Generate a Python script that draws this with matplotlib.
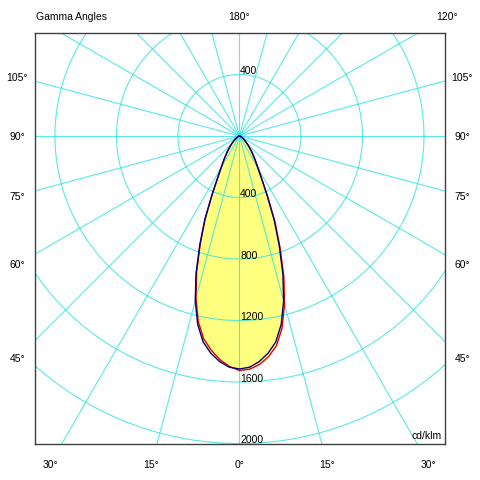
import matplotlib

matplotlib.use("Agg")
import matplotlib.pyplot as plt
import numpy as np

plt.rcParams["font.family"] = ["Liberation Sans", "DejaVu Sans"]

# gamma angles (deg from nadir) and intensities in cd/klm
GAMMA = np.arange(0, 90.1, 2.5)
BLUE_C90 = [1515, 1505, 1473, 1425, 1360, 1255, 1110, 940, 755, 590, 425, 310, 240, 195, 160,
            132, 108, 88, 70, 57, 46, 37, 30, 24, 19, 15, 12, 9, 7, 6, 5, 4, 3, 2, 1, 1, 0]
BLUE_C270 = BLUE_C90
RED_C0 = [1525, 1518, 1492, 1448, 1385, 1280, 1133, 960, 772, 603, 434, 316, 245, 199, 163,
          135, 110, 90, 71, 58, 47, 38, 31, 24, 19, 15, 12, 9, 7, 6, 5, 4, 3, 2, 1, 1, 0]
RED_C180 = [1525, 1500, 1460, 1405, 1340, 1237, 1093, 926, 744, 581, 419, 305, 236, 192, 158,
            130, 106, 87, 69, 56, 45, 36, 29, 23, 18, 14, 11, 9, 7, 6, 5, 4, 3, 2, 1, 1, 0]

RINGS = [400, 800, 1200, 1600, 2000]
SPOKES = np.arange(0, 360, 15)
LEFT_LABELS = [105, 90, 75, 60, 45]
BOTTOM_LABELS = [-30, -15, 0, 15, 30]

GRID = "#22e2e2"


def to_xy(gamma_deg, vals, side):
    g = np.radians(np.asarray(gamma_deg, dtype=float))
    v = np.asarray(vals, dtype=float)
    return side * v * np.sin(g), -v * np.cos(g)


def curve(left, right):
    xl, yl = to_xy(GAMMA, left, -1)
    xr, yr = to_xy(GAMMA, right, 1)
    x = np.concatenate([xl[::-1], xr[1:]])
    y = np.concatenate([yl[::-1], yr[1:]])
    return x, y


fig = plt.figure(figsize=(4.8, 4.81), dpi=100)
ax = fig.add_axes([34.5 / 480, (481 - 444.7) / 481, 410.2 / 480, 410.4 / 481])
ax.set_xlim(-1333, 1335)
ax.set_ylim(-2001, 668)
ax.set_xticks([])
ax.set_yticks([])
for sp in ax.spines.values():
    sp.set_color("#404040")
    sp.set_linewidth(1.0)

# fill
xr, yr = curve(RED_C180, RED_C0)
xb, yb = curve(BLUE_C270, BLUE_C90)
ax.fill(xb, yb, color="#ffff80", lw=0, zorder=1)
ax.fill(xr, yr, color="#ffff80", lw=0, zorder=1)

# polar grid
t = np.linspace(0, 2 * np.pi, 400)
for r in RINGS:
    ax.plot(r * np.cos(t), r * np.sin(t), color=GRID, lw=0.8, alpha=0.75, zorder=2)
for a in SPOKES:
    ar = np.radians(a)
    ax.plot([0, 4000 * np.sin(ar)], [0, -4000 * np.cos(ar)], color=GRID, lw=0.8, alpha=0.75, zorder=2)

ax.plot(xr, yr, color="#e00000", lw=1.0, zorder=3)
ax.plot(xb, yb, color="#000080", lw=1.0, zorder=4)

# ring labels
fs = 7.5
ax.text(5, RINGS[0] - 5, str(RINGS[0]), fontsize=fs, ha="left", va="bottom", zorder=5)
for r in RINGS:
    ax.text(5, -r - 5, str(r), fontsize=fs, ha="left", va="bottom", zorder=5)
ax.text(1318, -1975, "cd/klm", fontsize=fs, ha="right", va="bottom", zorder=5)

# angle labels round the frame
side_off = 1444
bot_off = 2133
top_off = 780
for g in LEFT_LABELS:
    y = -side_off / np.tan(np.radians(g))
    ax.text(-side_off, y, f"{g}°", fontsize=fs, ha="center", va="center", clip_on=False)
    ax.text(side_off + 5, y, f"{g}°", fontsize=fs, ha="center", va="center", clip_on=False)
for g in BOTTOM_LABELS:
    x = bot_off * np.tan(np.radians(g))
    ax.text(x, -bot_off, f"{abs(g)}°", fontsize=fs, ha="center", va="center", clip_on=False)
ax.text(0, top_off, "180°", fontsize=fs, ha="center", va="center", clip_on=False)
ax.text(top_off * np.tan(np.radians(60)), top_off, "120°", fontsize=fs, ha="center", va="center", clip_on=False)
ax.text(-1325, top_off, "Gamma Angles", fontsize=fs, ha="left", va="center", clip_on=False)

fig.savefig("out.png", dpi=100)
